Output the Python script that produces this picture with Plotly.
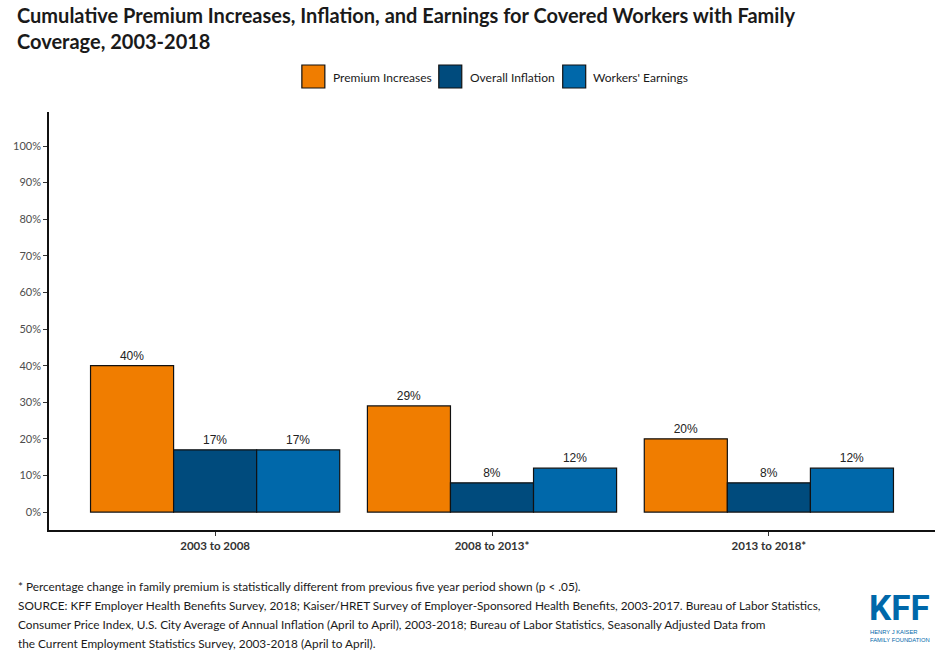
import plotly.graph_objects as go

categories = ["2003 to 2008", "2008 to 2013*", "2013 to 2018*"]
series_names = ["Premium Increases", "Overall Inflation", "Workers' Earnings"]
premium = [40, 29, 20]
inflation = [17, 8, 8]
earnings = [17, 12, 12]
colors = ["#F07D00", "#004B7D", "#0068AA"]
y_tickvals = [0, 10, 20, 30, 40, 50, 60, 70, 80, 90, 100]
y_ticktext = ["0%", "10%", "20%", "30%", "40%", "50%", "60%", "70%", "80%", "90%", "100%"]

title_text = ("Cumulative Premium Increases, Inflation, and Earnings for Covered Workers with Family"
              "<br>Coverage, 2003-2018")
footer_lines = [
    "* Percentage change in family premium is statistically different from previous five year period shown (p < .05).",
    "SOURCE: KFF Employer Health Benefits Survey, 2018; Kaiser/HRET Survey of Employer-Sponsored Health Benefits, 2003-2017. Bureau of Labor Statistics,",
    "Consumer Price Index, U.S. City Average of Annual Inflation (April to April), 2003-2018; Bureau of Labor Statistics, Seasonally Adjusted Data from",
    "the Current Employment Statistics Survey, 2003-2018 (April to April).",
]

W, H = 943, 664
L, R, T, B = 49, 935.5, 112, 530


def px(x):
    return (x - L) / (R - L)


def py(y):
    return (B - y) / (B - T)


fig = go.Figure()
for name, vals, col in zip(series_names, [premium, inflation, earnings], colors):
    fig.add_trace(go.Bar(
        x=list(range(len(categories))), y=vals, name=name,
        marker=dict(color=col, line=dict(color="#111111", width=1.2)),
        text=[f"{v}%" for v in vals], textposition="outside",
        textfont=dict(family="Liberation Sans, Arial", size=12, color="#222222"),
        cliponaxis=False, showlegend=False,
    ))

fig.update_layout(
    width=W, height=H,
    margin=dict(l=L, r=W - R, t=T, b=H - B, pad=0),
    paper_bgcolor="white", plot_bgcolor="white",
    barmode="group", bargap=0.1, bargroupgap=0,
    font=dict(family="Lato, Open Sans, sans-serif"),
    xaxis=dict(
        range=[-0.6, 2.6], tickvals=list(range(len(categories))),
        ticktext=[f"<b>{c}</b>" for c in categories],
        showline=True, linecolor="#111111", linewidth=1.5,
        ticks="outside", ticklen=4, tickcolor="#333333", tickwidth=1,
        tickfont=dict(size=11.5, color="#333333", family="Lato, Open Sans, sans-serif"),
        showgrid=False, zeroline=False,
    ),
    yaxis=dict(
        range=[-4.9, 109.3], tickvals=y_tickvals, ticktext=y_ticktext,
        showline=True, linecolor="#111111", linewidth=1.5,
        ticks="outside", ticklen=4, tickcolor="#333333", tickwidth=1,
        tickfont=dict(size=11, color="#4d4d4d", family="Lato, Open Sans, sans-serif"),
        showgrid=False, zeroline=False,
    ),
)

annotations = []
shapes = []
# Title
annotations.append(dict(
    text=f"<b>{title_text}</b>", xref="paper", yref="paper", x=px(15), y=py(1),
    xanchor="left", yanchor="top", align="left", showarrow=False,
    font=dict(family="Lato, sans-serif", size=20, color="#1a1a1a"),
))

# Legend (custom, larger swatches)
legend_sq_x = [302, 439, 563]
legend_text_x = [331, 468, 591]
for name, col, sx, tx in zip(series_names, colors, legend_sq_x, legend_text_x):
    shapes.append(dict(
        type="rect", xref="paper", yref="paper",
        x0=px(sx), x1=px(sx + 23), y0=py(88), y1=py(65),
        fillcolor=col, line=dict(color="#111111", width=1.2),
    ))
    annotations.append(dict(
        text=name, xref="paper", yref="paper", x=px(tx), y=py(77),
        xanchor="left", yanchor="middle", showarrow=False,
        font=dict(family="Lato, sans-serif", size=12, color="#1a1a1a"),
    ))

# Footer
for i, line in enumerate(footer_lines):
    annotations.append(dict(
        text=line, xref="paper", yref="paper", x=px(16), y=py(586 + 19 * i),
        xanchor="left", yanchor="middle", showarrow=False,
        font=dict(family="Lato, sans-serif", size=11.8, color="#1a1a1a"),
    ))

# KFF logo
annotations.append(dict(
    text="<b>KFF</b>", xref="paper", yref="paper", x=px(900), y=py(608),
    xanchor="center", yanchor="middle", showarrow=False,
    font=dict(family="Roboto, Liberation Sans, sans-serif", size=35, color="#0068AA"),
))
annotations.append(dict(
    text="HENRY J KAISER<br>FAMILY FOUNDATION", xref="paper", yref="paper",
    x=px(868), y=py(636), xanchor="left", yanchor="middle", align="left",
    showarrow=False,
    font=dict(family="Liberation Sans Narrow, Liberation Sans, sans-serif", size=5.8, color="#0068AA"),
))

fig.update_layout(annotations=annotations, shapes=shapes)
fig.write_html("out.html", config={"displayModeBar": False},
               post_script="document.body.style.margin='0';document.body.style.overflow='hidden';")
